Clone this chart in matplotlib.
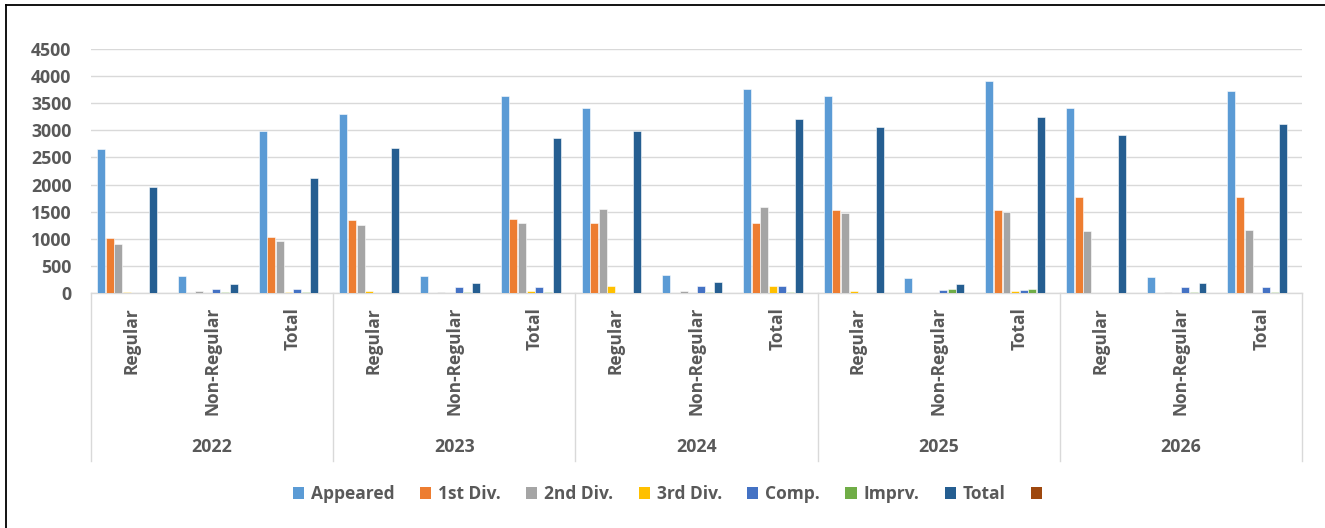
import matplotlib
matplotlib.use("Agg")
import matplotlib.pyplot as plt
import matplotlib.transforms as mtransforms
from matplotlib.patches import Patch
from matplotlib.lines import Line2D
import numpy as np

FONT = ['Open Sans', 'DejaVu Sans']
plt.rcParams['font.family'] = FONT

years = ["2022", "2023", "2024", "2025", "2026"]
types = ["Regular", "Non-Regular", "Total"]

series_names = ["Appeared", "1st Div.", "2nd Div.", "3rd Div.", "Comp.", "Imprv.", "Total", ""]
series_colors = ["#5B9BD5", "#ED7D31", "#A5A5A5", "#FFC000", "#4472C4", "#70AD47", "#255E91", "#9E480E"]

# values per category (2022 Regular, 2022 Non-Regular, 2022 Total, 2023 Regular, ...)
appeared = [2650, 320, 2980, 3300, 315, 3630, 3415, 333, 3755, 3625, 271, 3915, 3415, 296, 3725]
div1 =     [1020, 5, 1030, 1350, 3, 1360, 1282, 3, 1282, 1535, 2, 1535, 1775, 2, 1775]
div2 =     [900, 45, 955, 1250, 25, 1290, 1541, 37, 1590, 1480, 5, 1500, 1135, 18, 1165]
div3 =     [25, 5, 25, 43, 3, 43, 129, 3, 129, 37, 2, 37, 0, 0, 0]
comp =     [0, 80, 80, 0, 111, 117, 0, 129, 129, 0, 49, 49, 0, 111, 111]
imprv =    [0, 18, 18, 0, 18, 18, 0, 25, 25, 0, 68, 68, 0, 18, 18]
total =    [1960, 170, 2130, 2670, 180, 2855, 2980, 210, 3200, 3070, 160, 3245, 2920, 180, 3115]
extra =    [0] * 15

all_series = [appeared, div1, div2, div3, comp, imprv, total, extra]

W, H = 1325, 528
fig = plt.figure(figsize=(W / 100, H / 100), dpi=100)
ax = fig.add_axes([91 / W, 1 - 293 / H, (1302 - 91) / W, (293 - 49) / H])

n_cat = len(years) * len(types)
x = np.arange(n_cat)
pitch = 0.107
for j, (vals, col) in enumerate(zip(all_series, series_colors)):
    ax.bar(x + (j - 3.5) * pitch, vals, width=pitch * 0.92, color=col,
           edgecolor="white", linewidth=0.4, zorder=3)

ax.set_xlim(-0.5, n_cat - 0.5)
ax.set_ylim(0, 4500)
ax.set_yticks(np.arange(0, 4501, 500))
ax.yaxis.grid(True, color="#D9D9D9", linewidth=1.0, zorder=0)
ax.set_axisbelow(True)
for s in ["top", "right", "left"]:
    ax.spines[s].set_visible(False)
ax.spines["bottom"].set_color("#D9D9D9")
ax.spines["bottom"].set_linewidth(1.0)
ax.tick_params(axis="y", length=0, pad=14, labelsize=12.8, labelcolor="#595959")
for lab in ax.get_yticklabels():
    lab.set_fontweight("bold")
ax.set_xticks([])

blend = mtransforms.blended_transform_factory(ax.transData, fig.transFigure)

# sub-category labels
for i in range(n_cat):
    ax.text(i, 1 - 307 / H, types[i % 3], transform=blend, rotation=90,
            ha="center", va="top", fontsize=12.5, fontweight="bold", color="#595959")

# year labels
for k, yr in enumerate(years):
    ax.text(3 * k + 1, 1 - 447 / H, yr, transform=blend, ha="center", va="center",
            fontsize=12.8, fontweight="bold", color="#595959")

# separators
for b in np.arange(-0.5, n_cat, 3):
    ln = Line2D([b, b], [1 - 293 / H, 1 - 461 / H], transform=blend, color="#D9D9D9",
                linewidth=1.0, clip_on=False)
    ax.add_line(ln)

# legend
handles = [Patch(facecolor=c, edgecolor="none") for c in series_colors]
fig.legend(handles, series_names, loc="center", bbox_to_anchor=(671 / W, 1 - 494 / H),
           ncol=8, frameon=False, handlelength=0.65, handleheight=0.65,
           handletextpad=0.4, columnspacing=1.45,
           prop={"family": FONT, "weight": "bold", "size": 12.5},
           labelcolor="#595959")

# chart border (left and top visible)
fig.add_artist(Line2D([6 / W, 6 / W], [0, 1 - 5 / H], transform=fig.transFigure,
                      color="black", linewidth=1.3))
fig.add_artist(Line2D([6 / W, 1], [1 - 5 / H, 1 - 5 / H], transform=fig.transFigure,
                      color="black", linewidth=1.3))

fig.savefig("out.png", dpi=100, facecolor="white")
